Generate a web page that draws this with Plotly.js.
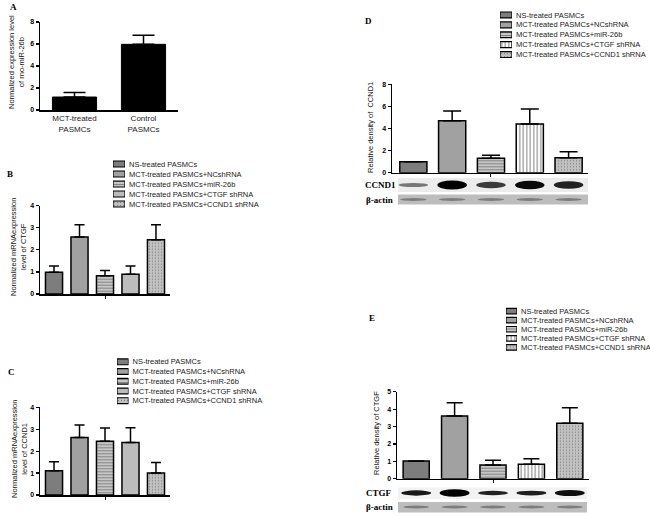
<!DOCTYPE html>
<html><head><meta charset="utf-8">
<script src="https://cdn.plot.ly/plotly-3.0.1.min.js"></script>
<style>html,body{margin:0;padding:0;background:#fff}#chart{width:650px;height:517px}</style>
</head><body><div id="chart"></div>
<script>
// ---------- data ----------
const groups = ["NS-treated PASMCs","MCT-treated PASMCs+NCshRNA","MCT-treated PASMCs+miR-26b","MCT-treated PASMCs+CTGF shRNA","MCT-treated PASMCs+CCND1 shRNA"];
const mirCats = ["MCT-treated<br>PASMCs","Control<br>PASMCs"];
const mirVals = [1.18, 5.97];
const mirErr = [0.40, 0.83];
const ctgfMrnaVals = [0.98, 2.58, 0.83, 0.89, 2.46];
const ctgfMrnaErr = [0.29, 0.56, 0.23, 0.38, 0.68];
const ccnd1MrnaVals = [1.11, 2.62, 2.45, 2.40, 1.00];
const ccnd1MrnaErr = [0.41, 0.57, 0.61, 0.67, 0.48];
const ccnd1ProtVals = [1.00, 4.71, 1.30, 4.41, 1.36];
const ccnd1ProtErr = [0, 0.88, 0.27, 1.36, 0.54];
const ctgfProtVals = [1.02, 3.60, 0.79, 0.83, 3.18];
const ctgfProtErr = [0, 0.77, 0.27, 0.32, 0.90];
const ccnd1BlotBand = [0.3, 1.0, 0.65, 0.95, 0.8];
const ctgfBlotBand = [0.6, 1.0, 0.45, 0.5, 0.75];
const actinBlotBand = [0.5, 0.5, 0.5, 0.5, 0.5];
const legendKey = [1, 1, 1, 1, 1];

// ---------- helpers ----------
const W = 650, H = 517;
const px = x => x / W;
const py = y => 1 - y / H;
const FONT = 'Liberation Sans, Arial, sans-serif';
const SERIF = 'Liberation Serif, Times New Roman, serif';
const zeros = a => a.map(() => 0);

function groupMarker(vertical, lw) {
  const bg = ['#7d7d7d', '#ffffff', '#c6c6c6', vertical ? '#ffffff' : '#bcbcbc', '#c2c2c2'];
  return {
    color: bg,
    line: {color: '#000', width: lw},
    pattern: {
      shape: ['', 'x', '-', vertical ? '|' : '', '.'],
      fgcolor: ['#7d7d7d', '#000000', '#e6e6e6', vertical ? '#000000' : '#bcbcbc', '#cdcdcd'],
      size: [4, 3.5, 3, 3.5, 3],
      solidity: [0.3, 1, 0.35, 0.4, 0.15],
      fillmode: 'overlay'
    }
  };
}
function errY(err, w) {
  return {type: 'data', symmetric: false, array: err, arrayminus: zeros(err), color: '#000', thickness: 1.5, width: w};
}

const traces = [
  {type: 'bar', x: mirCats, y: mirVals, xaxis: 'x', yaxis: 'y', width: 0.64,
   marker: {color: '#000', line: {color: '#000', width: 1}}, error_y: errY(mirErr, 11), hoverinfo: 'y'},
  {type: 'bar', x: groups, y: ctgfMrnaVals, xaxis: 'x2', yaxis: 'y2', width: 0.67,
   marker: groupMarker(false, 1.5), error_y: errY(ctgfMrnaErr, 5)},
  {type: 'bar', x: groups, y: ccnd1MrnaVals, xaxis: 'x3', yaxis: 'y3', width: 0.67,
   marker: groupMarker(false, 1.5), error_y: errY(ccnd1MrnaErr, 5)},
  {type: 'bar', x: groups, y: ccnd1ProtVals, xaxis: 'x4', yaxis: 'y4', width: 0.7,
   marker: groupMarker(true, 1.5), error_y: errY(ccnd1ProtErr, 9)},
  {type: 'bar', x: groups, y: ctgfProtVals, xaxis: 'x5', yaxis: 'y5', width: 0.68,
   marker: groupMarker(true, 1.5), error_y: errY(ctgfProtErr, 8)},
  // legend keys
  {type: 'bar', orientation: 'h', y: groups, x: legendKey, xaxis: 'x6', yaxis: 'y6', width: 0.6, marker: groupMarker(false, 1.2), hoverinfo: 'y'},
  {type: 'bar', orientation: 'h', y: groups, x: legendKey, xaxis: 'x7', yaxis: 'y7', width: 0.6, marker: groupMarker(false, 1.2), hoverinfo: 'y'},
  {type: 'bar', orientation: 'h', y: groups, x: legendKey, xaxis: 'x8', yaxis: 'y8', width: 0.6, marker: groupMarker(true, 1.2), hoverinfo: 'y'},
  {type: 'bar', orientation: 'h', y: groups, x: legendKey, xaxis: 'x9', yaxis: 'y9', width: 0.6, marker: groupMarker(true, 1.2), hoverinfo: 'y'}
];

const yBase = {showline: true, linecolor: '#000', linewidth: 1.5, ticks: 'outside', ticklen: 3, tickwidth: 1.2,
  tickcolor: '#000', showgrid: false, zeroline: false, fixedrange: true,
  tickfont: {family: FONT, size: 7, color: '#000', weight: 'bold'}};
const xBase = {showline: true, linecolor: '#000', linewidth: 1.5, showgrid: false, zeroline: false, type: 'category',
  showticklabels: false, ticks: 'outside', ticklen: 3, tickwidth: 1, tickcolor: '#000', tickvals: [groups[2]], fixedrange: true};
const legX = d => ({domain: d, range: [0, 1], visible: false, fixedrange: true});
const legY = (d, anchor) => ({domain: d, type: 'category', autorange: 'reversed', side: 'right', anchor: anchor,
  showline: false, ticks: '', showgrid: false, zeroline: false, ticklabelstandoff: 3, fixedrange: true,
  tickfont: {family: FONT, size: 7.5, color: '#222'}});

const layout = {
  width: W, height: H, margin: {l: 0, r: 0, t: 0, b: 0},
  paper_bgcolor: '#fff', plot_bgcolor: 'rgba(0,0,0,0)', showlegend: false, bargap: 0.3,
  xaxis: Object.assign({}, xBase, {domain: [px(40), px(178)], anchor: 'y', tickvals: undefined, ticks: '',
    showticklabels: true, tickfont: {family: FONT, size: 8, color: '#222'}}),
  yaxis: Object.assign({}, yBase, {domain: [py(110), py(22)], range: [0, 8], dtick: 2, anchor: 'x'}),
  xaxis2: Object.assign({}, xBase, {domain: [px(40), px(170)], range: [-0.55, 4.55], anchor: 'y2'}),
  yaxis2: Object.assign({}, yBase, {domain: [py(294), py(205.7)], range: [0, 4], dtick: 1, anchor: 'x2'}),
  xaxis3: Object.assign({}, xBase, {domain: [px(40), px(170)], range: [-0.55, 4.55], anchor: 'y3'}),
  yaxis3: Object.assign({}, yBase, {domain: [py(495), py(407.3)], range: [0, 4], dtick: 1, anchor: 'x3'}),
  xaxis4: Object.assign({}, xBase, {domain: [px(392), px(588)], range: [-0.55, 4.5], anchor: 'y4'}),
  yaxis4: Object.assign({}, yBase, {domain: [py(172.7), py(84.3)], range: [0, 8], dtick: 2, anchor: 'x4'}),
  xaxis5: Object.assign({}, xBase, {domain: [px(397), px(589)], range: [-0.5, 4.5], anchor: 'y5'}),
  yaxis5: Object.assign({}, yBase, {domain: [py(478.7), py(391.7)], range: [0, 5], dtick: 1, anchor: 'x5'}),
  xaxis6: legX([px(113), px(125)]), yaxis6: legY([py(209), py(159)], 'x6'),
  xaxis7: legX([px(117), px(128.5)]), yaxis7: legY([py(405.5), py(357)], 'x7'),
  xaxis8: legX([px(500), px(512)]), yaxis8: legY([py(59.5), py(10)], 'x8'),
  xaxis9: legX([px(506), px(517)]), yaxis9: legY([py(352), py(306.5)], 'x9'),
  annotations: [],
  shapes: []
};

function ann(text, x, y, opts) {
  layout.annotations.push(Object.assign({text: text, x: px(x), y: py(y), xref: 'paper', yref: 'paper',
    showarrow: false, xanchor: 'center', yanchor: 'middle'}, opts));
}
const titleFont = {family: FONT, size: 7.5, color: '#111'};
ann('Normalized expression level<br>of rno-miR-26b', 16, 62, {textangle: -90, font: titleFont});
ann('Normalized mRNAexpression<br>level of CTGF', 18, 247, {textangle: -90, font: titleFont});
ann('Normalized mRNAexpression<br>level of CCND1', 19, 449, {textangle: -90, font: titleFont});
ann('Relative density of  CCND1', 371, 128, {textangle: -90, font: titleFont});
ann('Relative density of CTGF', 376, 433, {textangle: -90, font: titleFont});
const lblFont = {family: SERIF, size: 9, color: '#000', weight: 'bold'};
ann('A', 13, 7, {font: lblFont});
ann('B', 10, 174, {font: lblFont});
ann('C', 11, 372, {font: lblFont});
ann('D', 368, 21, {font: lblFont});
ann('E', 372, 318, {font: lblFont});
const blotFont = {family: SERIF, size: 9, color: '#000', weight: 'bold'};
ann('CCND1', 363, 185, {font: blotFont, xanchor: 'left'});
ann('β-actin', 364, 200, {font: blotFont, xanchor: 'left'});
ann('CTGF', 364, 493, {font: blotFont, xanchor: 'left'});
ann('β-actin', 364, 507, {font: blotFont, xanchor: 'left'});

// blot strips
function strip(x0, x1, y0, y1, color) {
  layout.shapes.push({type: 'rect', xref: 'paper', yref: 'paper', x0: px(x0), x1: px(x1), y0: py(y1), y1: py(y0),
    fillcolor: color, line: {width: 0}, layer: 'below'});
}
function bands(axis, strengths, cy, hBase, hGain, hw, grayMax) {
  strengths.forEach((s, i) => {
    const h = hBase + hGain * s;
    const g = Math.round(grayMax * (1 - s));
    layout.shapes.push({type: 'circle', xref: axis, yref: 'paper', x0: i - hw, x1: i + hw,
      y0: py(cy + h / 2), y1: py(cy - h / 2), fillcolor: 'rgb(' + g + ',' + g + ',' + g + ')', line: {width: 0}});
  });
}
strip(398, 588, 178, 192, '#ececec');
strip(398, 588, 194.5, 204.5, '#bdbdbd');
bands('x4', ccnd1BlotBand, 185, 2, 7, 0.38, 170);
bands('x4', actinBlotBand, 199.5, 2, 2, 0.34, 250);
strip(398, 587, 487.5, 499, '#f2f2f2');
strip(398, 587, 502, 512.5, '#bdbdbd');
bands('x5', ctgfBlotBand, 493, 2, 5.5, 0.39, 60);
bands('x5', actinBlotBand, 507, 2, 2, 0.34, 250);

Plotly.newPlot('chart', traces, layout, {displayModeBar: false, staticPlot: true});
</script>
</body></html>
